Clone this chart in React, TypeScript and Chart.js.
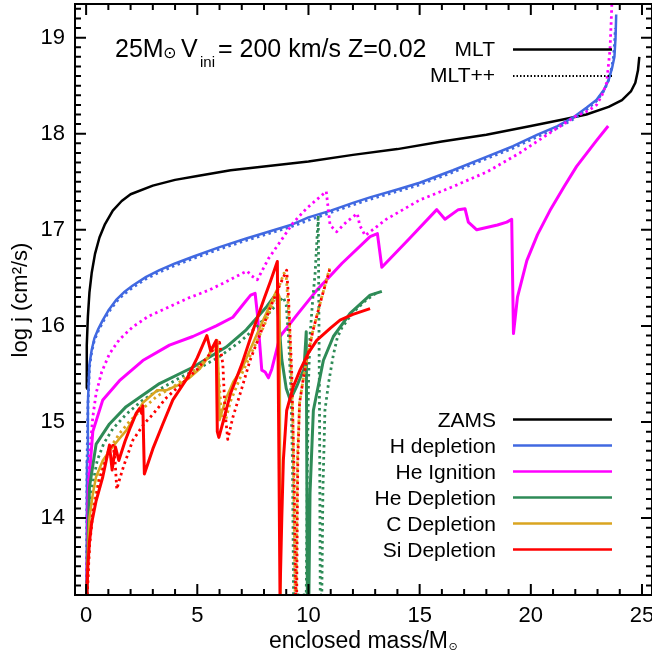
import React, { useEffect, useRef } from 'react';
import { Chart, registerables } from 'chart.js';

Chart.register(...registerables);

const FONT = "'Liberation Sans', Arial, Helvetica, sans-serif";
const SYM_FONT = "'DejaVu Sans', sans-serif";

// Axes
const X_RANGE = [-0.5, 25.45];
const Y_RANGE = [13.2, 19.35];
const X_TICKS = [0, 5, 10, 15, 20, 25];
const Y_TICKS = [14, 15, 16, 17, 18, 19];

// Legend / series meta
const STAGES = ['ZAMS', 'H depletion', 'He Ignition', 'He Depletion', 'C Depletion', 'Si Depletion'];
const STAGE_COLORS = ['#000000', '#4169E1', '#FF00FF', '#2E8B57', '#DAA520', '#FF0000'];
const MODELS = ['MLT', 'MLT++'];
const TITLE_PARTS = ['25M', '⊙', 'V', 'ini', '= 200 km/s Z=0.02'];

// ZAMS (MLT)
const ZAMS_X = [0.0, 0.03, 0.08, 0.15, 0.25, 0.4, 0.6, 0.85, 1.2, 1.6, 2.0, 3.0, 4.0, 5.0, 6.5, 8.0, 10.0, 12.0, 14.0, 16.0, 18.0, 20.0, 21.5, 22.5, 23.5, 24.1, 24.5, 24.7, 24.82, 24.88];
const ZAMS_Y = [15.35, 15.8, 16.1, 16.35, 16.55, 16.75, 16.92, 17.06, 17.2, 17.3, 17.37, 17.46, 17.52, 17.56, 17.62, 17.66, 17.71, 17.78, 17.84, 17.92, 17.99, 18.08, 18.15, 18.2, 18.28, 18.35, 18.44, 18.53, 18.66, 18.8];

// H depletion
const H_X = [0.02, 0.04, 0.08, 0.15, 0.25, 0.37, 0.55, 0.75, 1.0, 1.35, 1.7, 2.1, 2.7, 3.3, 4.0, 4.8, 6.0, 7.2, 8.2, 9.2, 10.0, 11.0, 12.0, 12.8, 14.0, 15.0, 16.5, 18.0, 19.2, 20.3, 21.2, 21.9, 22.5, 22.95, 23.3, 23.5, 23.65, 23.76, 23.81, 23.84];
const H_Y = [13.2, 14.6, 15.2, 15.6, 15.75, 15.87, 15.97, 16.06, 16.16, 16.27, 16.35, 16.42, 16.51, 16.58, 16.65, 16.72, 16.82, 16.91, 16.98, 17.05, 17.13, 17.2, 17.28, 17.34, 17.42, 17.49, 17.62, 17.76, 17.87, 17.99, 18.08, 18.17, 18.27, 18.35, 18.46, 18.56, 18.68, 18.8, 19.0, 19.24];
const HPP_X = [0.02, 0.04, 0.08, 0.15, 0.25, 0.37, 0.55, 0.75, 1.0, 1.35, 1.7, 2.1, 2.7, 3.3, 4.0, 4.8, 6.0, 7.2, 8.2, 9.2, 10.0, 11.0, 12.0, 12.8, 14.0, 15.0, 16.5, 18.0, 19.2, 20.3, 21.2, 21.9, 22.5, 22.95, 23.3, 23.5, 23.63, 23.72, 23.77, 23.8];
const HPP_Y = [13.2, 14.55, 15.15, 15.57, 15.73, 15.85, 15.95, 16.04, 16.14, 16.25, 16.33, 16.4, 16.49, 16.56, 16.63, 16.7, 16.8, 16.89, 16.96, 17.03, 17.1, 17.18, 17.26, 17.32, 17.4, 17.47, 17.6, 17.74, 17.85, 17.97, 18.06, 18.15, 18.25, 18.34, 18.45, 18.56, 18.68, 18.8, 18.95, 19.1];

// He ignition
const HEI_X = [0.03, 0.1, 0.3, 0.75, 1.5, 2.55, 3.75, 4.8, 5.85, 6.6, 7.05, 7.4, 7.6, 7.7, 7.9, 8.05, 8.2, 8.35, 8.72, 9.5, 10.37, 11.5, 12.77, 13.1, 13.3, 14.5, 15.77, 16.14, 16.74, 17.04, 17.19, 17.57, 18.5, 18.92, 19.14, 19.22, 19.4, 19.82, 20.3, 20.86, 21.5, 22.06, 22.96, 23.48];
const HEI_Y = [13.2, 14.3, 14.9, 15.23, 15.43, 15.64, 15.8, 15.89, 16.0, 16.09, 16.22, 16.32, 16.34, 16.13, 15.54, 15.52, 15.46, 15.55, 15.89, 16.12, 16.37, 16.65, 16.93, 16.96, 16.61, 16.9, 17.21, 17.11, 17.21, 17.22, 17.08, 17.0, 17.05, 17.08, 17.11, 15.92, 16.3, 16.68, 16.95, 17.2, 17.45, 17.66, 17.93, 18.08];
const HEIPP_X = [0.03, 0.08, 0.15, 0.3, 0.45, 0.7, 1.05, 1.5, 2.1, 2.8, 3.75, 4.6, 5.5, 6.3, 7.05, 7.25, 7.45, 7.7, 8.2, 8.8, 9.3, 9.9, 10.4, 10.8, 10.97, 11.27, 11.7, 12.2, 12.3, 12.55, 13.5, 15.0, 16.5, 18.0, 19.5, 21.0, 22.0, 22.6, 22.96, 23.2, 23.41, 23.56, 23.62, 23.66];
const HEIPP_Y = [13.2, 14.2, 14.65, 15.05, 15.3, 15.52, 15.71, 15.86, 15.99, 16.1, 16.2, 16.29, 16.37, 16.46, 16.55, 16.57, 16.52, 16.48, 16.7, 16.9, 17.07, 17.22, 17.32, 17.4, 17.05, 16.98, 17.08, 17.17, 17.05, 16.94, 17.11, 17.31, 17.45, 17.6, 17.8, 18.03, 18.18, 18.24, 18.3, 18.4, 18.53, 18.87, 19.2, 19.45];

// He depletion
const HED_X = [0.03, 0.15, 0.45, 1.05, 1.8, 3.3, 4.8, 6.3, 7.2, 8.12, 8.57, 8.65, 8.8, 9.0, 9.18, 9.47, 9.7, 9.8, 9.9, 9.95, 10.02, 10.07, 10.22, 10.67, 11.12, 11.87, 12.77, 13.3];
const HED_Y = [13.2, 14.32, 14.77, 14.98, 15.16, 15.4, 15.57, 15.78, 15.96, 16.2, 16.34, 16.1, 15.65, 15.35, 15.23, 15.37, 15.5, 15.55, 15.94, 13.2, 13.2, 14.26, 15.12, 15.64, 15.89, 16.13, 16.32, 16.36];
const HEDPP_X = [0.03, 0.1, 0.25, 0.5, 0.8, 1.2, 1.8, 2.5, 3.3, 4.2, 5.0, 6.0, 7.0, 7.8, 8.4, 8.87, 9.0, 9.1, 9.2, 9.28, 9.33, 9.9, 9.95, 10.0, 10.07, 10.2, 10.3, 10.44, 10.5, 10.53, 10.6, 10.65, 10.74, 10.9, 11.12, 11.3, 11.5, 12.0, 12.6, 13.1];
const HEDPP_Y = [13.2, 13.9, 14.3, 14.6, 14.78, 14.93, 15.08, 15.22, 15.34, 15.46, 15.55, 15.68, 15.85, 16.02, 16.18, 16.3, 16.22, 15.9, 15.4, 14.6, 13.2, 13.2, 14.5, 15.4, 15.9, 16.3, 16.55, 17.15, 15.0, 13.2, 13.2, 14.3, 15.12, 15.4, 15.7, 15.88, 15.98, 16.14, 16.27, 16.35];

// C depletion
const CD_X = [0.03, 0.08, 0.15, 0.3, 0.45, 0.75, 1.05, 1.4, 1.8, 2.1, 2.55, 3.2, 3.6, 4.1, 4.6, 5.1, 5.5, 5.9, 5.97, 6.0, 6.1, 6.3, 6.62, 7.0, 7.37, 8.0, 8.57, 8.7, 8.74];
const CD_Y = [13.2, 13.6, 14.0, 14.25, 14.43, 14.6, 14.7, 14.8, 14.91, 15.02, 15.2, 15.33, 15.33, 15.38, 15.45, 15.55, 15.68, 15.85, 15.4, 15.02, 15.1, 15.25, 15.42, 15.55, 15.75, 16.08, 16.37, 16.3, 13.2];
const CDPP_X = [0.05, 0.15, 0.3, 0.6, 1.0, 1.5, 2.0, 2.6, 3.2, 4.0, 4.8, 5.4, 5.8, 5.95, 6.1, 6.25, 6.5, 7.0, 7.5, 8.0, 8.5, 8.9, 9.0, 9.15, 9.3, 9.4, 9.45, 9.5, 9.6, 9.8, 10.2, 10.6, 10.95];
const CDPP_Y = [13.2, 13.75, 14.1, 14.45, 14.7, 14.88, 15.02, 15.15, 15.27, 15.38, 15.52, 15.65, 15.82, 15.5, 15.05, 15.0, 15.22, 15.5, 15.75, 16.0, 16.3, 16.55, 16.52, 16.0, 15.0, 13.2, 13.2, 14.6, 15.2, 15.5, 15.95, 16.3, 16.6];

// Si depletion
const SI_X = [0.03, 0.08, 0.15, 0.25, 0.45, 0.75, 1.05, 1.17, 1.32, 1.47, 1.75, 2.0, 2.25, 2.4, 2.5, 2.55, 2.62, 3.0, 3.45, 3.9, 4.53, 5.0, 5.43, 5.6, 5.85, 5.9, 5.97, 6.1, 6.5, 7.0, 7.5, 8.0, 8.3, 8.6, 8.72, 8.76, 8.8, 8.87, 9.02, 9.32, 9.62, 10.0, 10.37, 11.0, 11.42, 12.0, 12.77];
const SI_Y = [13.2, 13.5, 13.75, 13.95, 14.18, 14.43, 14.76, 14.5, 14.74, 14.6, 14.8, 14.95, 15.09, 15.14, 15.09, 15.17, 14.46, 14.72, 14.98, 15.23, 15.45, 15.67, 15.9, 15.74, 15.85, 14.9, 14.84, 14.95, 15.3, 15.6, 15.95, 16.28, 16.47, 16.67, 13.2, 13.2, 14.0, 14.6, 15.12, 15.37, 15.54, 15.72, 15.85, 15.98, 16.06, 16.12, 16.18];
const SIPP_X = [0.05, 0.15, 0.3, 0.6, 0.95, 1.2, 1.3, 1.38, 1.5, 1.7, 2.1, 2.6, 3.0, 3.6, 4.4, 5.0, 5.6, 6.0, 6.15, 6.25, 6.37, 6.6, 7.0, 7.37, 7.8, 8.3, 8.7, 9.02, 9.1, 9.25, 9.35, 9.42, 9.47, 9.52, 9.6, 9.8, 10.2, 10.6, 10.97];
const SIPP_Y = [13.2, 13.7, 14.05, 14.4, 14.65, 14.78, 14.6, 14.3, 14.4, 14.55, 14.81, 14.98, 15.08, 15.25, 15.42, 15.55, 15.72, 15.83, 15.6, 15.1, 14.82, 15.05, 15.35, 15.64, 15.9, 16.2, 16.42, 16.58, 16.3, 15.5, 14.5, 13.2, 13.2, 14.6, 15.2, 15.5, 15.95, 16.3, 16.6];

// drawing order: bottom first
const SERIES: { stage: number; dotted: boolean; x: number[]; y: number[] }[] = [
  { stage: 0, dotted: false, x: ZAMS_X, y: ZAMS_Y },
  { stage: 1, dotted: false, x: H_X, y: H_Y },
  { stage: 1, dotted: true, x: HPP_X, y: HPP_Y },
  { stage: 2, dotted: false, x: HEI_X, y: HEI_Y },
  { stage: 2, dotted: true, x: HEIPP_X, y: HEIPP_Y },
  { stage: 3, dotted: false, x: HED_X, y: HED_Y },
  { stage: 3, dotted: true, x: HEDPP_X, y: HEDPP_Y },
  { stage: 4, dotted: false, x: CD_X, y: CD_Y },
  { stage: 4, dotted: true, x: CDPP_X, y: CDPP_Y },
  { stage: 5, dotted: false, x: SI_X, y: SI_Y },
  { stage: 5, dotted: true, x: SIPP_X, y: SIPP_Y },
];

const SOLID_WIDTHS = [2.5, 2.5, 3, 3, 2.5, 3];

function drawText(ctx: CanvasRenderingContext2D, s: string, x: number, y: number, size: number, align: CanvasTextAlign = 'left', family = FONT) {
  ctx.font = `${size}px ${family}`;
  ctx.textAlign = align;
  ctx.fillText(s, x, y);
}

const overlayPlugin = {
  id: 'overlay',
  afterDatasetsDraw(chart: any) {
    const { ctx, chartArea: a, scales } = chart;
    const xs = scales.x;
    const ys = scales.y;
    ctx.save();
    ctx.strokeStyle = '#000';
    ctx.lineWidth = 2;
    ctx.lineCap = 'butt';
    ctx.setLineDash([]);
    ctx.beginPath();
    ctx.rect(a.left, a.top, a.right - a.left, a.bottom - a.top);
    for (let v = Math.ceil(X_RANGE[0]); v <= Math.floor(X_RANGE[1]); v++) {
      const p = xs.getPixelForValue(v);
      const len = v % 5 === 0 ? 11 : 6;
      ctx.moveTo(p, a.bottom); ctx.lineTo(p, a.bottom - len);
      ctx.moveTo(p, a.top); ctx.lineTo(p, a.top + len);
    }
    const i0 = Math.round(Y_RANGE[0] * 10);
    const i1 = Math.floor(Y_RANGE[1] * 10 + 1e-6);
    for (let i = i0; i <= i1; i++) {
      const p = ys.getPixelForValue(i / 10);
      const len = i % 10 === 0 ? 11 : 6;
      ctx.moveTo(a.left, p); ctx.lineTo(a.left + len, p);
      ctx.moveTo(a.right, p); ctx.lineTo(a.right - len, p);
    }
    ctx.stroke();
    ctx.restore();
  },
  afterDraw(chart: any) {
    const ctx: CanvasRenderingContext2D = chart.ctx;
    ctx.save();
    ctx.fillStyle = '#000';
    ctx.textBaseline = 'alphabetic';

    // title
    drawText(ctx, TITLE_PARTS[0], 115, 57, 25);
    ctx.textBaseline = 'middle';
    drawText(ctx, TITLE_PARTS[1], 163, 54, 16, 'left', SYM_FONT);
    ctx.textBaseline = 'alphabetic';
    drawText(ctx, TITLE_PARTS[2], 181, 57, 25);
    drawText(ctx, TITLE_PARTS[3], 200, 66.5, 15);
    drawText(ctx, TITLE_PARTS[4], 218, 57, 25);

    // model legend
    drawText(ctx, MODELS[0], 495, 56, 21, 'right');
    drawText(ctx, MODELS[1], 495, 81.5, 21, 'right');
    ctx.strokeStyle = '#000';
    ctx.lineWidth = 2.5;
    ctx.setLineDash([]);
    ctx.beginPath(); ctx.moveTo(513, 49.5); ctx.lineTo(612, 49.5); ctx.stroke();
    ctx.lineWidth = 2;
    ctx.setLineDash([1.5, 2]);
    ctx.beginPath(); ctx.moveTo(513, 76); ctx.lineTo(612, 76); ctx.stroke();
    ctx.setLineDash([]);

    // stage legend
    STAGES.forEach((s, i) => {
      ctx.fillStyle = '#000';
      drawText(ctx, s, 496, 427 + 26 * i, 21, 'right');
      ctx.strokeStyle = STAGE_COLORS[i];
      ctx.lineWidth = 2.5;
      ctx.beginPath(); ctx.moveTo(513, 419.5 + 26 * i); ctx.lineTo(612, 419.5 + 26 * i); ctx.stroke();
    });

    // x-axis title
    ctx.fillStyle = '#000';
    const xt = 'enclosed mass/M';
    drawText(ctx, xt, 269, 648, 23);
    ctx.font = `23px ${FONT}`;
    const w = ctx.measureText(xt).width;
    ctx.textBaseline = 'middle';
    drawText(ctx, '⊙', 269 + w + 0.5, 647, 11, 'left', SYM_FONT);
    ctx.textBaseline = 'alphabetic';

    // y-axis title
    ctx.save();
    ctx.translate(27, 300);
    ctx.rotate(-Math.PI / 2);
    drawText(ctx, 'log j (cm²/s)', 0, 0, 22, 'center');
    ctx.restore();

    ctx.restore();
  },
};

export default function App() {
  const ref = useRef<HTMLCanvasElement>(null);
  useEffect(() => {
    if (!ref.current) return;
    const n = SERIES.length;
    const datasets = SERIES.map((s, i) => ({
      label: STAGES[s.stage] + (s.dotted ? ' ' + MODELS[1] : ' ' + MODELS[0]),
      data: s.x.map((x, k) => ({ x, y: s.y[k] })),
      borderColor: STAGE_COLORS[s.stage],
      backgroundColor: STAGE_COLORS[s.stage],
      borderWidth: s.dotted ? 2.8 : SOLID_WIDTHS[s.stage],
      borderDash: s.dotted ? [2.5, 3.5] : [],
      borderCapStyle: 'butt' as const,
      borderJoinStyle: 'round' as const,
      pointRadius: 0,
      showLine: true,
      tension: 0,
      fill: false,
      order: n - 1 - i,
    }));
    const tickFont = { family: FONT, size: 22 };
    const chart = new Chart(ref.current, {
      type: 'scatter',
      data: { datasets },
      options: {
        responsive: false,
        animation: false,
        devicePixelRatio: 1,
        layout: { padding: { top: 4, right: 0, left: 0, bottom: 0 } },
        plugins: { legend: { display: false }, tooltip: { enabled: false }, title: { display: false } },
        scales: {
          x: {
            type: 'linear',
            min: X_RANGE[0],
            max: X_RANGE[1],
            afterBuildTicks: (s: any) => { s.ticks = X_TICKS.map((v) => ({ value: v })); },
            afterFit: (s: any) => { s.height = 66; s.paddingLeft = 0; s.paddingRight = 0; s.paddingTop = 0; s.paddingBottom = 0; },
            grid: { display: false, drawTicks: false },
            border: { display: false },
            ticks: { font: tickFont, color: '#000', padding: 8, maxRotation: 0, autoSkip: false, callback: (v: any) => String(v) },
          },
          y: {
            type: 'linear',
            min: Y_RANGE[0],
            max: Y_RANGE[1],
            afterBuildTicks: (s: any) => { s.ticks = Y_TICKS.map((v) => ({ value: v })); },
            afterFit: (s: any) => { s.width = 75; s.paddingLeft = 0; s.paddingRight = 0; s.paddingTop = 0; s.paddingBottom = 0; },
            grid: { display: false, drawTicks: false },
            border: { display: false },
            ticks: { font: tickFont, color: '#000', padding: 10, autoSkip: false, callback: (v: any) => String(v) },
          },
        },
      },
      plugins: [overlayPlugin],
    });
    return () => chart.destroy();
  }, []);
  return (
    <div style={{ position: 'fixed', left: 0, top: 0, width: 652, height: 661, background: '#fff' }}>
      <canvas ref={ref} width={652} height={661} style={{ display: 'block', width: 652, height: 661 }} />
    </div>
  );
}
